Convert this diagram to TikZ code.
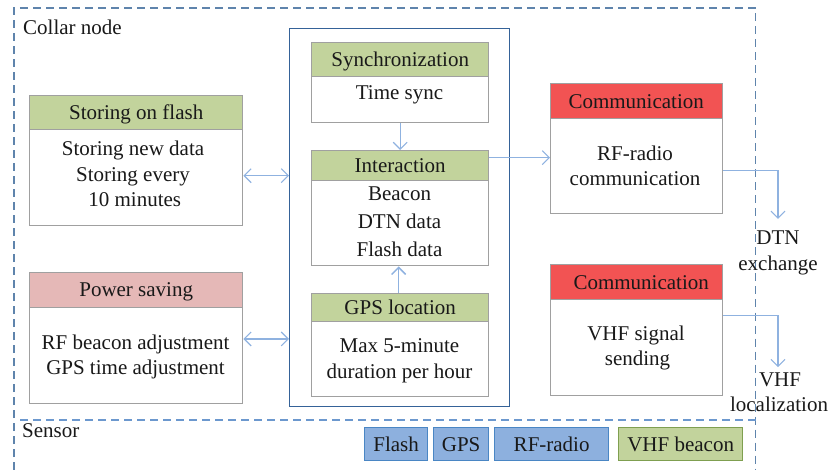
\documentclass[tikz,border=0pt]{standalone}
\usepackage{fontspec}
\setmainfont{Liberation Serif}
\usetikzlibrary{arrows.meta,positioning}
\definecolor{hgreen}{HTML}{C2D39C}
\definecolor{hred}{HTML}{F25353}
\definecolor{hpink}{HTML}{E5B8B7}
\definecolor{sblue}{HTML}{8DB0DE}
\definecolor{sblueb}{HTML}{4A86C4}
\definecolor{sgreenb}{HTML}{7F9F50}
\definecolor{boxgrey}{HTML}{A0A0A0}
\definecolor{arrowblue}{HTML}{8FB2E0}
\definecolor{outerdash}{HTML}{5F84AC}
\definecolor{sensordash}{HTML}{6C98CE}
\definecolor{coreline}{HTML}{356298}
\tikzset{
  txt/.style={font=\fontsize{21}{25.5}\selectfont,text=black!90,align=center,inner sep=0pt},
  plain/.style={txt,anchor=center},
  hdr/.style={txt,draw=boxgrey,line width=1.4pt,anchor=north west,text height=14pt,text depth=0pt},
  bodybox/.style={txt,draw=boxgrey,line width=1.4pt,fill=white,anchor=north west},
  sbox/.style={txt,line width=1.3pt,anchor=north west,minimum height=33pt,text height=14pt,text depth=0pt},
  flow/.style={draw=arrowblue,line width=1.1pt,-{Straight Barb[length=7pt,width=14pt]}},
  dflow/.style={draw=arrowblue,line width=1.1pt,{Straight Barb[length=7pt,width=14pt]}-{Straight Barb[length=7pt,width=14pt]}},
}
\begin{document}
\begin{tikzpicture}[x=1pt,y=-1pt]
\useasboundingbox (0,0) rectangle (829,470);
% container outlines
\draw[outerdash,line width=1.2pt,dash pattern=on 8pt off 5pt] (14,470) -- (14,8) -- (755.5,8) -- (755.5,470);
\draw[sensordash,line width=1.2pt,dash pattern=on 8pt off 5pt] (20,420) -- (755.5,420);
\node[draw=coreline,line width=1.3pt,anchor=north west,minimum width=220pt,minimum height=378pt,inner sep=0pt] (core) at (289,28) {};
\node[plain,anchor=west] (collar) at (23,27) {Collar node};
\node[plain,anchor=west] (sensor) at (22,431) {Sensor};
% storing on flash
\node[bodybox,minimum width=213pt,minimum height=96pt] (sb) at (29,129) {};
\node[hdr,fill=hgreen,minimum width=213pt,minimum height=34pt] (sh) at (29,95) {Storing on flash};
\node[plain] (st) at (133,174) {Storing new data\\Storing every\\\,10 minutes};
% power saving
\node[bodybox,minimum width=213pt,minimum height=96.5pt] (pb) at (29,306.5) {};
\node[hdr,fill=hpink,minimum width=213pt,minimum height=34.5pt] (ph) at (29,272) {Power saving};
\node[plain] (pt) at (135.5,357) {RF beacon adjustment\\GPS time adjustment};
% synchronization
\node[bodybox,minimum width=177pt,minimum height=46pt] (yb) at (311,76) {};
\node[hdr,fill=hgreen,minimum width=177pt,minimum height=34pt] (yh) at (311,42) {Synchronization};
\node[plain] (yt) at (399.5,95) {Time sync};
% interaction
\node[bodybox,minimum width=177pt,minimum height=85pt] (ib) at (311,180) {};
\node[hdr,fill=hgreen,minimum width=177pt,minimum height=30pt] (ih) at (311,150) {Interaction};
\node[plain,font=\fontsize{21}{28}\selectfont] (it) at (399.5,222) {Beacon\\DTN data\\Flash data};
% GPS location
\node[bodybox,minimum width=177pt,minimum height=75pt] (gb) at (311,321) {};
\node[hdr,fill=hgreen,minimum width=177pt,minimum height=28pt] (gh) at (311,293) {GPS location};
\node[plain] (gt) at (399.5,361) {Max 5-minute\\duration per hour};
% communication 1
\node[bodybox,minimum width=172pt,minimum height=95pt] (cb) at (550,118) {};
\node[hdr,fill=hred,minimum width=172pt,minimum height=35pt] (ch) at (550,83) {\hspace{-1pt}Communication};
\node[plain] (ct) at (635,166) {RF-radio\\communication};
% communication 2
\node[bodybox,minimum width=172pt,minimum height=96pt] (db) at (550,299) {};
\node[hdr,fill=hred,minimum width=172pt,minimum height=35pt] (dh) at (550,264) {\hspace{9pt}Communication};
\node[plain] (dt) at (636,348) {VHF signal\\\hspace{3pt}sending};
% outputs
\node[plain] (dtn) at (778,253) {DTN\\exchange};
\node[plain] (vhf) at (779,392) {\hspace{2pt}VHF\\localization};
% sensors
\node[sbox,draw=sblueb,fill=sblue,minimum width=63pt] (s1) at (364,427) {Flash};
\node[sbox,draw=sblueb,fill=sblue,minimum width=55pt] (s2) at (433,427) {GPS};
\node[sbox,draw=sblueb,fill=sblue,minimum width=114pt] (s3) at (494,427) {RF-radio};
\node[sbox,draw=sgreenb,fill=hgreen,minimum width=124pt] (s4) at (618,427) {VHF beacon};
% connectors
\draw[dflow] ([yshift=2pt]sb.east) -- ([yshift=2pt]sb.east -| core.west);
\draw[dflow] ([yshift=16.5pt]pb.east) -- ([yshift=16.5pt]pb.east -| core.west);
\draw[flow] (yb.south) -- (ih.north);
\draw[flow,line width=1.5pt] ([xshift=-1.5pt]gh.north) -- ([xshift=-1.5pt]ib.south);
\draw[flow] ([yshift=8pt]ih.east) -- ([yshift=8pt]ih.east -| cb.west);
\coordinate (dtnin) at ([yshift=12pt]dtn.north);
\draw[flow] ([yshift=-4.5pt]cb.east) -| (dtnin);
\coordinate (vhfin) at ([yshift=5pt,xshift=-1pt]vhf.north);
\draw[flow] ([yshift=32.5pt]db.east) -| (vhfin);
\end{tikzpicture}
\end{document}
